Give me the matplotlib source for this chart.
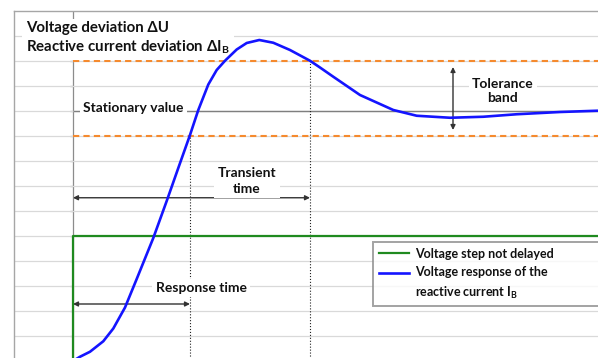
import matplotlib
matplotlib.use("Agg")
import matplotlib.pyplot as plt
import numpy as np

plt.rcParams['font.family'] = ['Lato', 'DejaVu Sans']
plt.rcParams['font.weight'] = 'bold'
plt.rcParams['mathtext.fontset'] = 'custom'
plt.rcParams['mathtext.rm'] = 'Lato:bold'
plt.rcParams['mathtext.bf'] = 'Lato:bold'
plt.rcParams['mathtext.it'] = 'Lato:bold'

# ---- data (time in arbitrary units, value in grid units) ----
t_resp = [0.0, 0.7, 1.7, 3.03, 4.03, 5.2, 6.37, 8.03, 9.37, 10.53, 11.7, 12.53,
          13.53, 14.37, 15.2, 16.37, 17.37, 18.63, 20.03, 21.7, 23.7, 24.7,
          26.03, 28.7, 32.03, 34.37, 37.7, 41.03, 44.37, 48.7, 52.37, 53.0]
v_resp = [0.0, 0.17, 0.37, 0.79, 1.30, 2.14, 3.28, 4.92, 6.40, 7.72, 9.04, 10.04,
          11.06, 11.64, 12.01, 12.46, 12.72, 12.84, 12.73, 12.44, 12.01, 11.74,
          11.37, 10.64, 10.04, 9.81, 9.73, 9.77, 9.87, 9.96, 10.01, 10.01]
t_step = [0.0, 0.0, 53.0]
v_step = [0.0, 5.0, 5.0]
stationary = 10.0
band_upper = 12.0
band_lower = 9.0
t_response = 11.7
t_transient = 23.7
grid_levels = list(range(1, 14))

label_step = "Voltage step not delayed"
label_resp = "Voltage response of the\nreactive current I$_\\mathrm{B}$"
title_text = "Voltage deviation \u0394U\nReactive current deviation \u0394I$_\\mathrm{B}$"

fig = plt.figure(figsize=(5.98, 3.58), dpi=100)
ax = fig.add_axes([14 / 598, 0, 584 / 598, 347 / 358])
ax.set_xlim(-5.9, 52.5)
ax.set_ylim(0.12, 14)

ax.set_yticks(grid_levels)
ax.set_xticks([])
ax.grid(axis='y', color='#d9d9d9', lw=0.9)
ax.tick_params(left=False, labelleft=False, bottom=False, labelbottom=False)
for s in ['right', 'bottom']:
    ax.spines[s].set_visible(False)
for s in ['left', 'top']:
    ax.spines[s].set_color('#a6a6a6')
    ax.spines[s].set_linewidth(1.0)
    ax.spines[s].set_zorder(10)

# value axis at t = 0 with small ticks
ax.axvline(0, color='#8c8c8c', lw=0.9, zorder=1.5)
ax.hlines(grid_levels, -0.35, 0, color='#8c8c8c', lw=0.9, zorder=1.5)

# stationary value line and tolerance band
ax.hlines(stationary, 0, 53, color='#7f7f7f', lw=1.0, zorder=2)
ax.hlines([band_upper, band_lower], 0, 53, color='#f58a2e', lw=1.5,
          linestyles=(0, (3, 2)), zorder=2.2)

# dotted markers of response/transient time
ax.vlines(t_response, 0, band_lower, color='#222222', lw=0.8, linestyles=':', zorder=2)
ax.vlines(t_transient, 0, band_upper, color='#222222', lw=0.8, linestyles=':', zorder=2)

# series
ax.plot(t_step, v_step, color='#1f8a1f', lw=1.6, label=label_step, zorder=4)
ax.plot(t_resp, v_resp, color='#1414ff', lw=1.9, label=label_resp, zorder=5,
        solid_joinstyle='round')

# arrows
ap = dict(arrowstyle='<|-|>', color='#333333', lw=1.0, mutation_scale=7,
          shrinkA=0, shrinkB=0)
ax.annotate('', xy=(0, 6.53), xytext=(t_transient, 6.53), arrowprops=ap, zorder=3)
ax.annotate('', xy=(0, 2.28), xytext=(t_response, 2.28), arrowprops=ap, zorder=3)
ax.annotate('', xy=(38.0, 11.76), xytext=(38.0, 9.24), arrowprops=ap, zorder=3)

fs = 10
tc = '#111111'
wb = dict(facecolor='white', edgecolor='none', pad=2.5)
ax.text(-4.7, 12.9, title_text, fontsize=10.8, ha='left', va='center',
        linespacing=1.22, color=tc,
        bbox=dict(facecolor='white', edgecolor='none', pad=3.0), zorder=3)
ax.text(1.0, 10.12, "Stationary value", fontsize=fs, ha='left', va='center',
        color=tc, bbox=wb, zorder=3)
ax.text(17.4, 7.2, "Transient\ntime", fontsize=fs, ha='center', va='center',
        color=tc, linespacing=1.32, bbox=wb, zorder=3)
ax.text(12.8, 2.92, "Response time", fontsize=fs, ha='center', va='center',
        color=tc, bbox=wb, zorder=3)
ax.text(43.0, 10.8, "Tolerance\nband", fontsize=fs, ha='center', va='center',
        color=tc, linespacing=1.28, bbox=wb, zorder=3)

leg = ax.legend(loc='upper left', bbox_to_anchor=(30.0, 4.76, 30.0, 0.0),
                bbox_transform=ax.transData, mode='expand',
                fontsize=9.0, frameon=True, fancybox=False, borderpad=0.45,
                handlelength=2.4, handletextpad=0.5, labelspacing=0.55,
                borderaxespad=0.0)
leg.get_frame().set_edgecolor('#8c8c8c')
leg.get_frame().set_linewidth(1.4)
leg.set_zorder(6)
for txt in leg.get_texts():
    txt.set_color(tc)
    txt.set_linespacing(1.5)
# align the second handle with the first line of its two-line label
blue_handle = leg.get_lines()[1]
blue_handle.set_ydata(np.asarray(blue_handle.get_ydata()) + 8.0)

fig.savefig('out.png', dpi=100)
